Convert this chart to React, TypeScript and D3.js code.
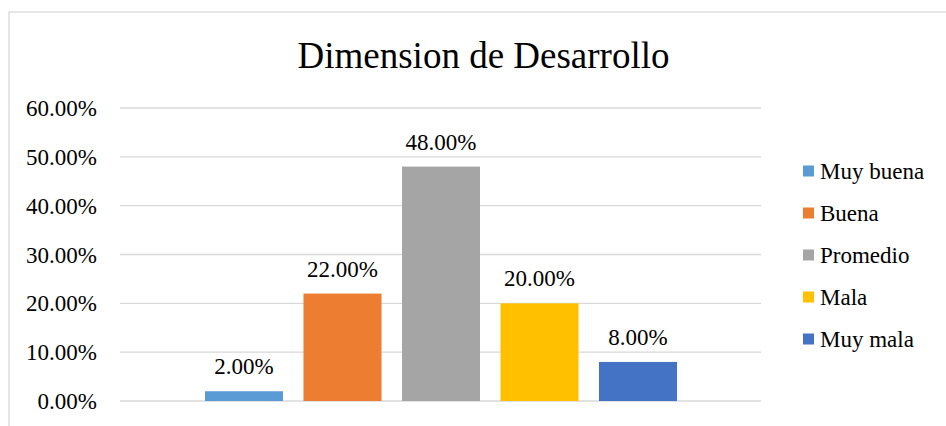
import React from "react";
import * as d3 from "d3";

const categories = ["Muy buena", "Buena", "Promedio", "Mala", "Muy mala"];
const values = [0.02, 0.22, 0.48, 0.2, 0.08];
const colors = ["#5B9BD5", "#ED7D31", "#A5A5A5", "#FFC000", "#4472C4"];
const yTicks = [0, 0.1, 0.2, 0.3, 0.4, 0.5, 0.6];
const title = "Dimension de Desarrollo";

const W = 946;
const H = 426;
const FONT = '"Liberation Serif", "Times New Roman", Times, serif';
const ts = { fontFamily: FONT };

export default function App() {
  const y = d3.scaleLinear().domain([0, 0.6]).range([401, 108]);
  const x = d3
    .scaleBand<string>()
    .domain(categories)
    .range([194.75, 687.25])
    .paddingInner(0.208)
    .paddingOuter(0.104);
  const fmt = (v: number) => (v * 100).toFixed(2) + "%";
  const legendY = d3.scalePoint<string>().domain(categories).range([171, 339]);

  return (
    <svg
      width={W}
      height={H}
      style={{ position: "absolute", left: 0, top: 0, background: "#fff", fontFamily: FONT }}
    >
      <rect x={9} y={12} width={W + 20} height={H + 20} fill="#fff" stroke="#D9D9D9" strokeWidth={1.3} />
      <text x={483.5} y={68} textAnchor="middle" fontSize={37} fill="#000" style={ts}>
        {title}
      </text>
      {yTicks.map((t) => (
        <g key={t}>
          <line x1={120} x2={761} y1={y(t)} y2={y(t)} stroke="#D9D9D9" strokeWidth={1.3} />
          <text x={97} y={y(t) + 8} textAnchor="end" fontSize={23} fill="#000" style={ts}>
            {fmt(t)}
          </text>
        </g>
      ))}
      {categories.map((c, i) => (
        <g key={c}>
          <rect
            x={x(c)}
            y={y(values[i])}
            width={x.bandwidth()}
            height={y(0) - y(values[i])}
            fill={colors[i]}
          />
          <text
            x={(x(c) as number) + x.bandwidth() / 2}
            y={y(values[i]) - 17}
            textAnchor="middle"
            fontSize={23}
            fill="#000"
            style={ts}
          >
            {fmt(values[i])}
          </text>
        </g>
      ))}
      {categories.map((c, i) => (
        <g key={"lg" + c}>
          <rect x={803} y={(legendY(c) as number) - 5.5} width={11} height={11} fill={colors[i]} />
          <text x={820} y={(legendY(c) as number) + 7.5} fontSize={23} fill="#000" style={ts}>
            {c}
          </text>
        </g>
      ))}
    </svg>
  );
}
